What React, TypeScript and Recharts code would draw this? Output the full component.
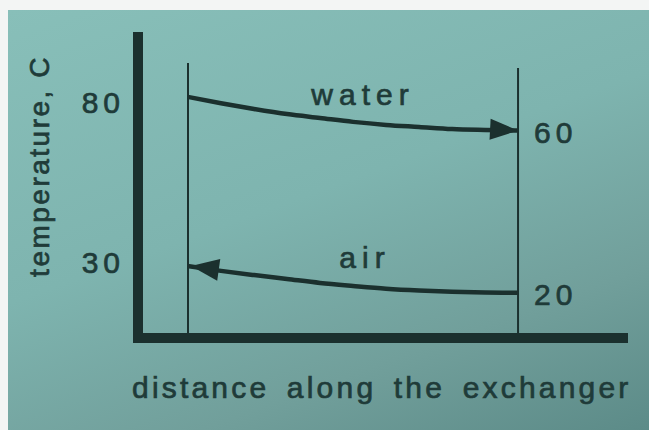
import React from 'react';
import {
    ComposedChart,
    Line,
    XAxis,
    YAxis,
    ReferenceLine,
    Label
} from 'recharts';

// schematic positions along the exchanger (0 = inlet end, 1 = outlet end)
const distance = [0, 0.1, 0.2, 0.3, 0.4, 0.5, 0.6, 0.7, 0.8, 0.9, 1];
// curve heights on a 0..100 schematic scale
const waterLevel = [80.1, 78.0, 76.1, 74.4, 73.1, 71.8, 70.8, 70.1, 69.4, 69.1, 68.9];
const airLevel = [23.9, 22.3, 20.9, 19.6, 18.3, 17.3, 16.4, 15.8, 15.4, 15.1, 15.0];
// end temperatures printed at each end of the curves
const waterTemps = ['80', '60'];
const airTemps = ['30', '20'];
const seriesNames = ['water', 'air'];
// top of the two thin boundary lines, same 0..100 scale
const boundaryTop = [91.4, 89.7];

const rows = distance.map((d, i) => ({ d, water: waterLevel[i], air: airLevel[i] }));

const INK = '#1b302e';
const TEXT = '#1f3b39';
const FONT = '"Liberation Sans", Arial, Helvetica, sans-serif';
const last = distance.length - 1;
const mid = 5;

// thin stroke on text to get the heavier look of the printed page
const ink = { fill: TEXT, stroke: TEXT, strokeWidth: 0.7 };
const numStyle = { fontFamily: FONT, fontSize: 30, letterSpacing: 5, ...ink };
const nameStyle = { fontFamily: FONT, fontSize: 30, letterSpacing: 6, ...ink };

const makeLabels = (name: string, temps: string[], dyLeft: number, dyRight: number, dx: number, dyName: number) =>
    (props: any) => {
        const { x, y, index } = props;
        if (index === 0) {
            return <text key="l0" x={x - 63} y={y + dyLeft} textAnchor="end" style={numStyle}>{temps[0]}</text>;
        }
        if (index === last) {
            return <text key="l1" x={x + 16} y={y + dyRight} textAnchor="start" style={numStyle}>{temps[1]}</text>;
        }
        if (index === mid) {
            return <text key="lm" x={x + dx} y={y + dyName} textAnchor="middle" style={nameStyle}>{name}</text>;
        }
        return <g key={`e-${index}`} />;
    };

// arrow head at the outlet end of water (pointing right)
const waterArrow = (props: any) => {
    const { cx, cy, index } = props;
    if (index !== last) return <g key={`w-${index}`} />;
    return (
        <polygon
            key="w-arrow"
            points={`${cx},${cy} ${cx - 28},${cy - 10.5} ${cx - 28},${cy + 10.5}`}
            transform={`rotate(3 ${cx} ${cy})`}
            fill={INK}
        />
    );
};

// arrow head at the outlet end of air (pointing left)
const airArrow = (props: any) => {
    const { cx, cy, index } = props;
    if (index !== 0) return <g key={`a-${index}`} />;
    const tx = cx + 3;
    return (
        <polygon
            key="a-arrow"
            points={`${tx},${cy} ${tx + 28},${cy - 11} ${tx + 28},${cy + 11}`}
            transform={`rotate(8 ${tx} ${cy})`}
            fill={INK}
        />
    );
};

const App: React.FC = () => {
    return (
        <div style={{ position: 'fixed', left: 0, top: 0, width: 649, height: 430, background: '#f3f5f4', overflow: 'hidden' }}>
            <div
                style={{
                    position: 'absolute',
                    left: 8,
                    top: 10,
                    right: 0,
                    bottom: 0,
                    background: 'linear-gradient(160deg, #88bfb9 0%, #7eb4af 45%, #719f9b 75%, #5c8b88 100%)'
                }}
            />
            <div style={{ position: 'absolute', left: 0, top: 0 }}>
                <ComposedChart width={649} height={430} data={rows} margin={{ top: 37, right: 26, left: 0, bottom: 0 }}>
                    <XAxis
                        dataKey="d"
                        type="number"
                        domain={[-0.1515, 1.318]}
                        tick={false}
                        tickLine={false}
                        height={92}
                        axisLine={{ stroke: INK, strokeWidth: 10, strokeLinecap: 'square' }}
                    >
                        <Label
                            content={(p: any) => (
                                <text
                                    x={p.viewBox.x - 6}
                                    y={p.viewBox.y + 60}
                                    style={{ fontFamily: FONT, fontSize: 30, letterSpacing: 3.2, wordSpacing: 6, ...ink }}
                                >
                                    distance along the exchanger
                                </text>
                            )}
                        />
                    </XAxis>
                    <YAxis
                        type="number"
                        domain={[0, 100]}
                        tick={false}
                        tickLine={false}
                        width={138}
                        axisLine={{ stroke: INK, strokeWidth: 10, strokeLinecap: 'square' }}
                    >
                        <Label
                            content={(p: any) => {
                                const x = p.viewBox.x + 49;
                                const y = p.viewBox.y + 129;
                                return (
                                    <text
                                        x={x}
                                        y={y}
                                        textAnchor="middle"
                                        transform={`rotate(-90 ${x} ${y})`}
                                        style={{ fontFamily: FONT, fontSize: 28, letterSpacing: 2.5, ...ink }}
                                    >
                                        temperature, C
                                    </text>
                                );
                            }}
                        />
                    </YAxis>
                    <ReferenceLine
                        segment={[{ x: distance[0], y: boundaryTop[0] }, { x: distance[0], y: 0 }]}
                        stroke={INK}
                        strokeWidth={2}
                    />
                    <ReferenceLine
                        segment={[{ x: distance[last], y: boundaryTop[1] }, { x: distance[last], y: 0 }]}
                        stroke={INK}
                        strokeWidth={2}
                    />
                    <Line
                        type="monotone"
                        dataKey="water"
                        stroke={INK}
                        strokeWidth={4.5}
                        dot={waterArrow}
                        activeDot={false}
                        label={makeLabels(seriesNames[0], waterTemps, 16, 12, 10, -17)}
                        isAnimationActive={false}
                    />
                    <Line
                        type="monotone"
                        dataKey="air"
                        stroke={INK}
                        strokeWidth={4.5}
                        dot={airArrow}
                        activeDot={false}
                        label={makeLabels(seriesNames[1], airTemps, 7, 12, 12, -18)}
                        isAnimationActive={false}
                    />
                </ComposedChart>
            </div>
        </div>
    );
};

export default App;
